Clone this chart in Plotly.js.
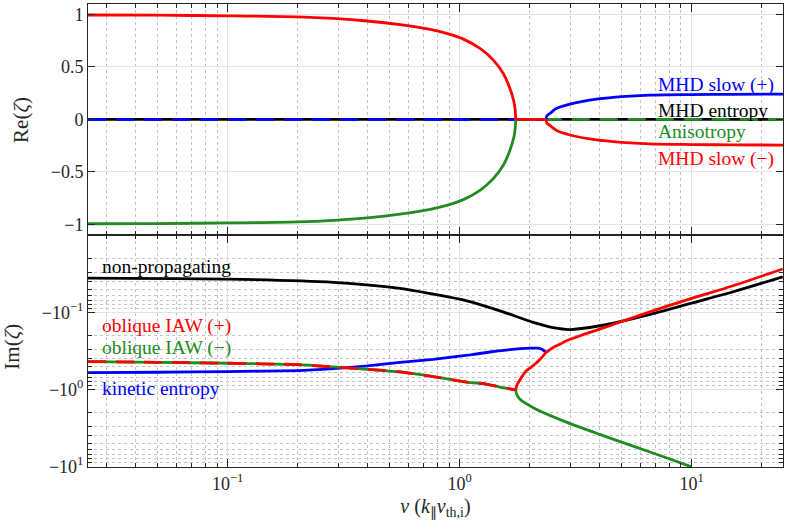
<!DOCTYPE html>
<html>
<head>
<meta charset="utf-8">
<script src="https://cdn.plot.ly/plotly-3.0.1.min.js"></script>
<style>html,body{margin:0;padding:0;background:#fff;}#chart{width:789px;height:524px;}</style>
</head>
<body>
<div id="chart"></div>
<script>
// ---------- DATA ----------
// Top panel: Re(zeta)
const nuReUp   = [0.025, 0.05, 0.1, 0.2, 0.286, 0.4, 0.553, 0.747, 0.91, 1.038, 1.224, 1.397, 1.542, 1.648, 1.714, 1.735, 1.745];
const reIAWp   = [0.995, 0.993, 0.987, 0.977, 0.962, 0.938, 0.903, 0.857, 0.81, 0.765, 0.676, 0.565, 0.438, 0.295, 0.168, 0.09, 0.0];
const reIAWm   = [-0.995, -0.993, -0.987, -0.977, -0.962, -0.938, -0.903, -0.857, -0.81, -0.765, -0.676, -0.565, -0.438, -0.295, -0.168, -0.09, 0.0];
const nuMid    = [1.745, 2.355];
const reMid    = [0, 0];
const nuSlow   = [2.355, 2.38, 2.45, 2.62, 2.99, 3.64, 4.59, 6.6, 10, 15, 24.8];
const reSlowP  = [0, 0.035, 0.057, 0.105, 0.146, 0.184, 0.21, 0.231, 0.236, 0.239, 0.241];
const reSlowM  = [0, -0.036, -0.058, -0.107, -0.149, -0.187, -0.213, -0.234, -0.24, -0.243, -0.245];
const nuFull   = [0.025, 25];
const reZero   = [0, 0];
const nuKinZero = [0.025, 2.355];
const nuAnisoZero = [1.745, 25];

// Bottom panel: |Im(zeta)| (drawn as -|Im| on a reversed log axis)
const nuNP   = [0.025, 0.1, 0.286, 0.553, 0.77, 1.074, 1.493, 2.077, 2.53, 2.99, 4.02, 5.6, 7.78, 10, 15.1, 24.7];
const imNP   = [0.0357, 0.0368, 0.0406, 0.0486, 0.0577, 0.0706, 0.0953, 0.135, 0.158, 0.167, 0.149, 0.12, 0.0933, 0.0757, 0.0538, 0.0344];
const nuKin  = [0.025, 0.05, 0.1, 0.2, 0.286, 0.4, 0.553, 0.77, 1.109, 1.352, 1.648, 2.01, 2.18, 2.29, 2.355];
const imKin  = [0.605, 0.6, 0.587, 0.57, 0.537, 0.497, 0.445, 0.407, 0.357, 0.327, 0.304, 0.292, 0.292, 0.308, 0.333];
const nuIAWL = [0.025, 0.05, 0.1, 0.2, 0.286, 0.4, 0.553, 0.77, 1.074, 1.3, 1.493, 1.65, 1.745];
const imIAWL = [0.435, 0.445, 0.458, 0.478, 0.512, 0.548, 0.594, 0.682, 0.804, 0.853, 0.933, 0.985, 1.02];
const nuIAWpMid = [1.745, 1.762, 1.82, 1.945, 2.077, 2.218, 2.355];
const imIAWpMid = [1.02, 0.9, 0.75, 0.57, 0.49, 0.41, 0.333];
const nuIAWpR = [2.355, 2.53, 2.72, 2.89, 3.4, 4.02, 5.24, 7.78, 10, 15.1, 24.7];
const imIAWpR = [0.333, 0.286, 0.257, 0.234, 0.195, 0.165, 0.125, 0.0836, 0.0658, 0.045, 0.0272];
const nuIAWmR = [1.745, 1.762, 1.82, 2.077, 2.89, 4.02, 5.6, 7.78, 10.0];
const imIAWmR = [1.02, 1.16, 1.35, 1.73, 2.67, 3.86, 5.48, 7.76, 10.2];

// Tick labels
const xTickVals = [0.1, 1, 10];
const xTickText = ['10<sup>\u22121</sup>', '10<sup>0</sup>', '10<sup>1</sup>'];
const reTickVals = [-1, -0.5, 0, 0.5, 1];
const reTickText = ['\u22121', '\u22120.5', '0', '0.5', '1'];
const imTickVals = [0.1, 1, 10];
const imTickText = ['\u221210<sup>\u22121</sup>', '\u221210<sup>0</sup>', '\u221210<sup>1</sup>'];

// Labels
const topLabels = ['MHD slow (+)', 'MHD entropy', 'Anisotropy', 'MHD slow (\u2212)'];
const botLabels = ['non-propagating', 'oblique IAW (+)', 'oblique IAW (\u2212)', 'kinetic entropy'];
const reTitle = 'Re(<i>\u03b6</i>)';
const imTitle = 'Im(<i>\u03b6</i>)';
const xTitle = '<i>\u03bd</i> (<i>k</i><sub>\u2225</sub><i>v</i><sub>th,i</sub>)';

// ---------- STYLE ----------
const RED = '#ff0000', BLUE = '#0000ff', GREEN = '#228b22', BLACK = '#000000';
const LW = 2.8;
const DASH = '18px,10px';
const FONT = 'Liberation Serif';
const AX = '#262626';
const LABEL_SIZE = 19.5;

function minorVals(lo, hi) {
  const v = [];
  for (let e = -3; e <= 2; e++) {
    for (let d = 2; d <= 9; d++) {
      const t = d * Math.pow(10, e);
      if (t >= lo && t <= hi) v.push(t);
    }
  }
  return v;
}

function tr(x, y, color, xa, ya, dash, shape, sm) {
  return {x: x, y: y, type: 'scatter', mode: 'lines', xaxis: xa, yaxis: ya,
    line: {color: color, width: LW, dash: dash || 'solid', shape: shape || 'spline', smoothing: sm === undefined ? 0.8 : sm},
    hoverinfo: 'skip', showlegend: false};
}

const data = [
  // top
  tr(nuFull, reZero, BLACK, 'x2', 'y', 'solid', 'linear'),
  tr(nuKinZero, reZero, BLUE, 'x2', 'y', DASH, 'linear'),
  tr(nuAnisoZero, reZero, GREEN, 'x2', 'y', DASH, 'linear'),
  tr(nuReUp, reIAWm, GREEN, 'x2', 'y'),
  tr(nuSlow, reSlowP, BLUE, 'x2', 'y'),
  tr(nuReUp, reIAWp, RED, 'x2', 'y'),
  tr(nuMid, reMid, RED, 'x2', 'y', 'solid', 'linear'),
  tr(nuSlow, reSlowM, RED, 'x2', 'y'),
  // bottom
  tr(nuNP, imNP, BLACK, 'x', 'y2'),
  tr(nuKin, imKin, BLUE, 'x', 'y2', 'solid', 'spline', 0.5),
  tr(nuIAWL, imIAWL, GREEN, 'x', 'y2'),
  tr(nuIAWmR, imIAWmR, GREEN, 'x', 'y2'),
  tr(nuIAWL, imIAWL, RED, 'x', 'y2', DASH),
  tr(nuIAWpMid, imIAWpMid, RED, 'x', 'y2', 'solid', 'spline', 0.6),
  tr(nuIAWpR, imIAWpR, RED, 'x', 'y2')
];

const gridMajor = '#e3e3e3';
const gridMinor = '#c4c4c4';

const xCommon = {
  type: 'log', range: [-1.602, 1.394],
  tickmode: 'array', tickvals: xTickVals, ticktext: xTickText,
  ticks: 'inside', ticklen: 8, tickwidth: 1, tickcolor: AX,
  showline: true, linecolor: AX, linewidth: 1, mirror: 'allticks',
  showgrid: true, gridcolor: gridMajor, gridwidth: 1,
  zeroline: false,
  minor: {tickmode: 'array', tickvals: minorVals(0.02, 30), ticks: 'inside', ticklen: 4, tickcolor: AX,
          showgrid: true, gridcolor: gridMinor, griddash: 'dot', gridwidth: 1},
  tickfont: {family: FONT, size: 18, color: AX}
};

const layout = {
  width: 789, height: 524,
  margin: {l: 88, r: 6, t: 4, b: 57},
  paper_bgcolor: '#ffffff', plot_bgcolor: '#ffffff',
  font: {family: FONT, size: 18, color: AX},
  showlegend: false,
  xaxis: Object.assign({}, xCommon, {
    anchor: 'y2', domain: [0, 1],
    title: {text: xTitle, font: {family: FONT, size: 20, color: AX}, standoff: 6}
  }),
  xaxis2: Object.assign({}, xCommon, {anchor: 'y', matches: 'x', showticklabels: false}),
  yaxis: {
    domain: [0.5016, 1], range: [-1.1, 1.1], anchor: 'x2',
    tickmode: 'array', tickvals: reTickVals, ticktext: reTickText,
    ticks: 'inside', ticklen: 7, tickcolor: AX,
    showline: true, linecolor: AX, linewidth: 1, mirror: 'allticks',
    showgrid: true, gridcolor: gridMajor, zeroline: false,
    tickfont: {family: FONT, size: 18, color: AX}
  },
  yaxis2: {
    domain: [0, 0.5016], type: 'log', range: [1.01, -2.01], anchor: 'x',
    tickmode: 'array', tickvals: imTickVals, ticktext: imTickText,
    ticks: 'inside', ticklen: 7, tickcolor: AX,
    showline: true, linecolor: AX, linewidth: 1, mirror: 'allticks',
    showgrid: true, gridcolor: gridMajor, zeroline: false,
    minor: {tickmode: 'array', tickvals: minorVals(0.009, 11), ticks: 'inside', ticklen: 4, tickcolor: AX,
            showgrid: true, gridcolor: gridMinor, griddash: 'dot', gridwidth: 1},
    tickfont: {family: FONT, size: 18, color: AX}
  },
  annotations: [
    {text: reTitle, xref: 'paper', yref: 'paper', x: -0.0964, y: 0.7497, xanchor: 'center', yanchor: 'middle',
     textangle: -90, showarrow: false, font: {family: FONT, size: 21, color: AX}},
    {text: imTitle, xref: 'paper', yref: 'paper', x: -0.1093, y: 0.26, xanchor: 'center', yanchor: 'middle',
     textangle: -90, showarrow: false, font: {family: FONT, size: 21, color: AX}}
  ]
};

const topColors = [BLUE, BLACK, GREEN, RED];
const topY = [0.825, 0.770, 0.725, 0.666];
topLabels.forEach((t, i) => layout.annotations.push({
  text: t, xref: 'paper', yref: 'paper', x: 0.817, y: topY[i], xanchor: 'left', yanchor: 'middle',
  showarrow: false, font: {family: FONT, size: LABEL_SIZE, color: topColors[i]}
}));
const botColors = [BLACK, RED, GREEN, BLUE];
const botY = [0.4326, 0.3053, 0.2578, 0.1694];
botLabels.forEach((t, i) => layout.annotations.push({
  text: t, xref: 'paper', yref: 'paper', x: 0.017, y: botY[i], xanchor: 'left', yanchor: 'middle',
  showarrow: false, font: {family: FONT, size: LABEL_SIZE, color: botColors[i]}
}));

Plotly.newPlot('chart', data, layout, {staticPlot: true, displayModeBar: false});
</script>
</body>
</html>
